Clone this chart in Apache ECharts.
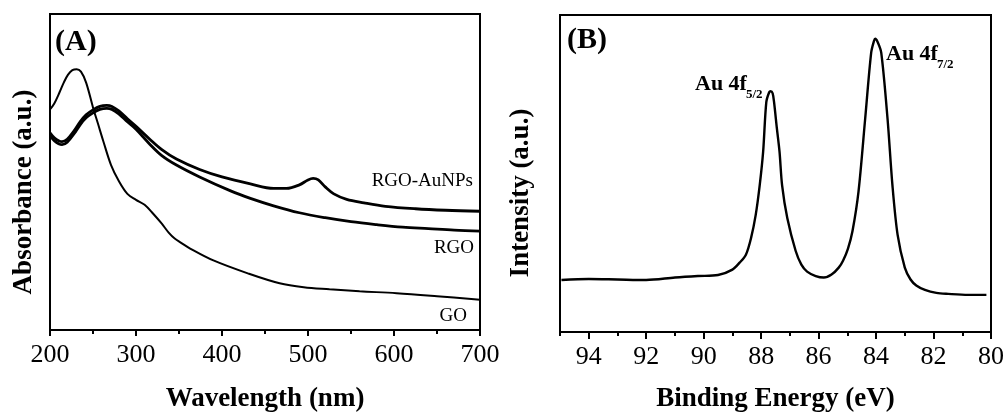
<!DOCTYPE html>
<html><head><meta charset="utf-8">
<script src="https://cdn.jsdelivr.net/npm/echarts@6/dist/echarts.min.js"></script>
<style>html,body{margin:0;padding:0;background:#fff}#c{width:1007px;height:418px}</style>
</head><body><div id="c"></div>
<script>
// ---- Panel A: UV-vis absorbance ----
const uvTicks = [200, 300, 400, 500, 600, 700];
const goX = [200,205,211,216,221,226,231,236,242,250,256,262,271,280,290,300,310,320,330,338,345,352,363,390,430,467,495,525,560,603,650,700];
const goY = [2.22,2.28,2.39,2.49,2.57,2.615,2.625,2.60,2.49,2.24,2.07,1.90,1.66,1.50,1.37,1.31,1.26,1.17,1.07,0.98,0.92,0.88,0.82,0.70,0.57,0.47,0.43,0.41,0.39,0.37,0.34,0.305];
const auX = [200,205,210,214,220,228,235,242,250,258,266,272,280,290,300,316,330,347,374,400,433,460,475,490,500,506,512,520,530,545,565,590,625,660,700];
const auY = [1.985,1.935,1.905,1.895,1.92,2.005,2.095,2.165,2.215,2.25,2.26,2.25,2.205,2.125,2.05,1.92,1.815,1.72,1.615,1.54,1.47,1.425,1.425,1.46,1.51,1.525,1.51,1.44,1.37,1.315,1.28,1.245,1.22,1.205,1.195];
const rgoX = [200,205,210,214,220,228,235,242,250,258,266,272,280,290,300,316,330,347,374,410,433,460,490,520,550,580,610,640,670,700];
const rgoY = [1.955,1.905,1.875,1.865,1.89,1.975,2.065,2.135,2.185,2.22,2.23,2.22,2.175,2.095,2.02,1.87,1.755,1.66,1.54,1.40,1.325,1.25,1.18,1.13,1.09,1.06,1.035,1.02,1.005,0.995];
const uvNames = ['RGO-AuNPs', 'RGO', 'GO'];

// ---- Panel B: XPS Au 4f ----
const xpsTicks = [80, 82, 84, 86, 88, 90, 92, 94];
const beX = [94.95,94.0,93.0,92.0,91.0,90.2,89.5,89.0,88.75,88.53,88.35,88.19,88.05,87.93,87.82,87.72,87.67,87.6,87.55,87.45,87.36,87.27,87.09,86.80,86.6,86.4,86.1,85.82,85.55,85.30,85.15,84.98,84.82,84.61,84.38,84.17,84.07,84.03,83.95,83.82,83.6,83.43,83.25,83.0,82.8,82.6,82.3,81.9,81.49,80.8,80.16];
const beY = [0.525,0.535,0.53,0.525,0.55,0.565,0.575,0.63,0.70,0.78,0.95,1.18,1.48,1.82,2.32,2.42,2.43,2.41,2.32,2.05,1.82,1.48,1.15,0.82,0.68,0.61,0.565,0.55,0.58,0.65,0.72,0.84,1.02,1.42,2.15,2.82,2.94,2.96,2.93,2.82,2.15,1.48,0.98,0.65,0.53,0.47,0.425,0.395,0.385,0.375,0.375];
const peakLabels = [['Au 4f', '5/2'], ['Au 4f', '7/2']];

const FONT = '"Liberation Serif", "Times New Roman", serif';
const pair = (xs, ys) => xs.map((x, i) => [x, ys[i]]);

const chart = echarts.init(document.getElementById('c'), null, {renderer: 'canvas'});

function txt(x, y, text, size, weight, align, vAlign, rot) {
  return {type: 'text', x: x, y: y, rotation: rot || 0, z: 100,
    style: {text: text, fontFamily: FONT, fontSize: size, fontWeight: weight,
      fill: '#000', align: align, verticalAlign: vAlign}};
}

const option = {
  animation: false,
  backgroundColor: '#fff',
  grid: [
    {left: 50, top: 14, width: 430, height: 318, show: true, borderColor: '#000', borderWidth: 2},
    {left: 560, top: 15, width: 433, height: 320, show: true, borderColor: '#000', borderWidth: 2}
  ],
  xAxis: [
    {type: 'value', gridIndex: 0, min: uvTicks[0], max: uvTicks[uvTicks.length - 1], interval: 100,
      position: 'bottom',
      name: 'Wavelength (nm)', nameLocation: 'middle', nameGap: 56,
      nameTextStyle: {fontFamily: FONT, fontSize: 27, fontWeight: 'bold', color: '#000'},
      axisLine: {show: true, lineStyle: {color: '#000', width: 2}},
      axisTick: {show: true, inside: false, length: 6, lineStyle: {color: '#000', width: 2}},
      minorTick: {show: true, splitNumber: 2, length: 4, lineStyle: {color: '#000', width: 2}},
      axisLabel: {margin: 12, fontFamily: FONT, fontSize: 26, color: '#000'},
      splitLine: {show: false}, minorSplitLine: {show: false}},
    {type: 'value', gridIndex: 1, min: xpsTicks[0], max: 95, interval: 2, inverse: true,
      position: 'bottom',
      name: 'Binding Energy (eV)', nameLocation: 'middle', nameGap: 54,
      nameTextStyle: {fontFamily: FONT, fontSize: 27, fontWeight: 'bold', color: '#000'},
      axisLine: {show: true, lineStyle: {color: '#000', width: 2}},
      axisTick: {show: true, inside: false, length: 7, lineStyle: {color: '#000', width: 2}},
      axisLabel: {margin: 12, fontFamily: FONT, fontSize: 26, color: '#000', showMaxLabel: false, showMinLabel: true},
      splitLine: {show: false}},
    {type: 'value', gridIndex: 1, min: xpsTicks[0], max: 95, interval: 1, inverse: true,
      position: 'bottom',
      axisLine: {show: false},
      axisTick: {show: true, inside: false, length: 4, lineStyle: {color: '#000', width: 2}},
      axisLabel: {show: false}, splitLine: {show: false}}
  ],
  yAxis: [
    {type: 'value', gridIndex: 0, min: 0, max: 3.18,
      axisLine: {show: false}, axisTick: {show: false}, axisLabel: {show: false}, splitLine: {show: false}},
    {type: 'value', gridIndex: 1, min: 0, max: 3.2,
      axisLine: {show: false}, axisTick: {show: false}, axisLabel: {show: false}, splitLine: {show: false}}
  ],
  series: [
    {name: uvNames[2], type: 'line', xAxisIndex: 0, yAxisIndex: 0, data: pair(goX, goY),
      showSymbol: false, smooth: 0.35, lineStyle: {color: '#000', width: 2}},
    {name: uvNames[1], type: 'line', xAxisIndex: 0, yAxisIndex: 0, data: pair(rgoX, rgoY),
      showSymbol: false, smooth: 0.35, lineStyle: {color: '#000', width: 2.8}},
    {name: uvNames[0], type: 'line', xAxisIndex: 0, yAxisIndex: 0, data: pair(auX, auY),
      showSymbol: false, smooth: 0.35, lineStyle: {color: '#000', width: 2.8}},
    {name: 'Au 4f', type: 'line', xAxisIndex: 1, yAxisIndex: 1, data: pair(beX, beY),
      showSymbol: false, smooth: 0.3, lineStyle: {color: '#000', width: 2.4}}
  ],
  graphic: [
    txt(24, 192, 'Absorbance (a.u.)', 27, 'bold', 'center', 'middle', Math.PI / 2),
    txt(521, 193, 'Intensity (a.u.)', 27, 'bold', 'center', 'middle', Math.PI / 2),
    txt(55, 42, '(A)', 30, 'bold', 'left', 'middle'),
    txt(567, 40, '(B)', 30, 'bold', 'left', 'middle'),
    txt(473, 181, uvNames[0], 19, 'normal', 'right', 'middle'),
    txt(474, 248, uvNames[1], 19, 'normal', 'right', 'middle'),
    txt(467, 316, uvNames[2], 19, 'normal', 'right', 'middle'),
    txt(695, 84, peakLabels[0][0], 22, 'bold', 'left', 'middle'),
    txt(746, 95, peakLabels[0][1], 13, 'bold', 'left', 'middle'),
    txt(886, 54, peakLabels[1][0], 22, 'bold', 'left', 'middle'),
    txt(937, 65, peakLabels[1][1], 13, 'bold', 'left', 'middle')
  ]
};
chart.setOption(option);
</script>
</body></html>
